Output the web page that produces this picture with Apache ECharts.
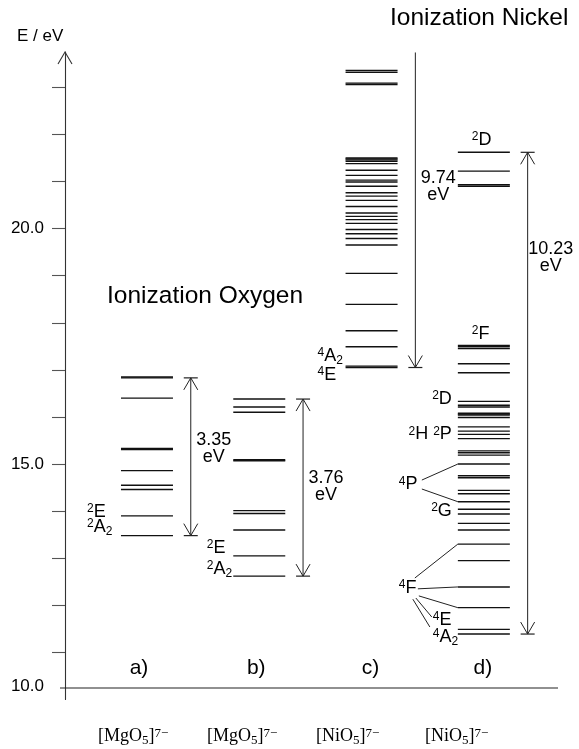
<!DOCTYPE html>
<html>
<head>
<meta charset="utf-8">
<script src="https://cdn.jsdelivr.net/npm/echarts@6/dist/echarts.min.js"></script>
<style>
  html, body { margin: 0; padding: 0; background: #fff; }
  #chart { width: 579px; height: 749px; }
</style>
</head>
<body>
<div id="chart"></div>
<script>
// ---- data -------------------------------------------------------------
const columns = ['a)', 'b)', 'c)', 'd)'];
const clusterMetal = ['Mg', 'Mg', 'Ni', 'Ni'];

// state energies (eV) per column
const levelsA = [16.85, 16.83, 16.40, 15.33, 15.31, 14.86, 14.55, 14.46, 13.90, 13.48];
const levelsB = [16.38, 16.21, 16.10, 15.09, 15.07, 14.01, 13.95, 13.60, 13.05, 12.62];
const levelsC = [23.36, 23.32, 23.09, 23.06, 21.50, 21.48, 21.46, 21.43, 21.38, 21.24,
                 21.13, 21.03, 20.99, 20.90, 20.76, 20.69, 20.60, 20.47, 20.33, 20.26,
                 20.19, 20.11, 19.98, 19.89, 19.79, 19.65, 19.05, 18.39, 17.83, 17.49,
                 17.08, 17.05];
const levelsD = [21.62, 21.22, 20.93, 20.90, 17.52, 17.49, 17.45, 17.13, 16.94, 16.33,
                 16.25, 16.21, 16.08, 16.06, 16.04, 15.99, 15.79, 15.70, 15.63, 15.54,
                 15.28, 15.24, 15.19, 15.00, 14.75, 14.71, 14.44, 14.37, 14.20, 14.04,
                 13.94, 13.74, 13.60, 13.30, 12.95, 12.39, 11.95, 11.49, 11.39];

// ionization gaps: lower state and width (eV)
const gapFrom = [13.48, 12.62, 17.05, 11.39];
const gapValue = [3.35, 3.76, 9.74, 10.23];

// energy axis
const yTickValues = [11, 12, 13, 14, 15, 16, 17, 18, 19, 20, 21, 22, 23];
const yLabelValues = [15, 20];
const yMin = 10;
const yMax = 23.75;

// ---- layout -----------------------------------------------------------
const FONT = 'Liberation Sans, Arial, sans-serif';
const SERIF = 'Liberation Serif, Times New Roman, serif';
const HALF = 0.2315;          // half width of a level bar (column units)
const ARROW_DX = 0.39;        // arrow offset from column centre
const X_MIN = -0.73, X_MAX = 3.5;
const BASE_E = 10.244;        // diagram baseline
const GAP_LABEL_E = [15.32, 14.53, 20.89, 19.38];
const COL_LABEL_DX = [-8, -3, -1, -1];
const COL_LABEL_E = 10.67;

const termRich = {
  t:   { fontSize: 18, lineHeight: 20, verticalAlign: 'top', fontFamily: FONT, fill: '#000' },
  sup: { fontSize: 12, lineHeight: 14, verticalAlign: 'top', fontFamily: FONT, fill: '#000' },
  sub: { fontSize: 12, lineHeight: 12, padding: [13, 0, 0, 0], verticalAlign: 'bottom', fontFamily: FONT, fill: '#000' },
  sp:  { fontSize: 18, lineHeight: 20, verticalAlign: 'top', fontFamily: FONT }
};
function term(mult, sym, sub) {
  return '{sup|' + mult + '}{t|' + sym + '}' + (sub ? '{sub|' + sub + '}' : '');
}

// term symbol labels: column, x offset (px), energy of text centre, alignment
const termLabels = [
  { col: 0, dx: -60, e: 13.96, align: 'left', text: term('2', 'E') },
  { col: 0, dx: -60, e: 13.64, align: 'left', text: term('2', 'A', '2') },
  { col: 1, dx: -52.5, e: 13.20, align: 'left', text: term('2', 'E') },
  { col: 1, dx: -52.5, e: 12.75, align: 'left', text: term('2', 'A', '2') },
  { col: 2, dx: -54, e: 17.27, align: 'left', text: term('4', 'A', '2') },
  { col: 2, dx: -54, e: 16.87, align: 'left', text: term('4', 'E') },
  { col: 3, dx: -12, e: 21.86, align: 'left', text: term('2', 'D') },
  { col: 3, dx: -12, e: 17.74, align: 'left', text: term('2', 'F') },
  { col: 3, dx: -32, e: 16.36, align: 'right', text: term('2', 'D') },
  { col: 3, dx: -32, e: 15.61, align: 'right', text: term('2', 'H') + '{sp| }' + term('2', 'P') },
  { col: 3, dx: -85, e: 14.55, align: 'left', text: term('4', 'P') },
  { col: 3, dx: -32, e: 13.99, align: 'right', text: term('2', 'G') },
  { col: 3, dx: -85, e: 12.35, align: 'left', text: term('4', 'F') },
  { col: 3, dx: -51, e: 11.67, align: 'left', text: term('4', 'E') },
  { col: 3, dx: -51, e: 11.31, align: 'left', text: term('4', 'A', '2') }
];

// connector lines from multiplet labels to their levels (column d)
const connectors = [
  [[-62, 14.66], [-26, 15.00]],
  [[-62, 14.47], [-26, 14.20]],
  [[-69, 12.58], [-26, 13.30]],
  [[-66, 12.35], [-26, 12.39]],
  [[-65, 12.20], [-26, 11.95]],
  [[-68, 12.155], [-52, 11.75]],
  [[-71, 12.13], [-54, 11.54]]
];

// ---- series data ------------------------------------------------------
const levelData = [];
[levelsA, levelsB, levelsC, levelsD].forEach(function (arr, col) {
  arr.forEach(function (e) { levelData.push([col, e]); });
});
const arrowData = gapFrom.map(function (f, i) { return [i, f, gapValue[i]]; });

const LINE = '#111';

function renderLevel(params, api) {
  const col = api.value(0), e = api.value(1);
  const p0 = api.coord([col - HALF, e]);
  const p1 = api.coord([col + HALF, e]);
  return {
    type: 'line',
    shape: { x1: p0[0], y1: p0[1], x2: p1[0], y2: p1[1] },
    style: { stroke: LINE, lineWidth: 1.4 }
  };
}

function chevron(x, y, dir) {
  // open arrow head with a small bar at the tip; dir = -1 points up, +1 points down
  return [
    { type: 'polyline', shape: { points: [[x - 7, y - dir * 12], [x, y], [x + 7, y - dir * 12]] },
      style: { stroke: '#222', lineWidth: 1, fill: null } },
    { type: 'line', shape: { x1: x - 7, y1: y, x2: x + 7, y2: y },
      style: { stroke: '#222', lineWidth: 1.2 } }
  ];
}

function renderArrow(params, api) {
  const col = api.value(0), from = api.value(1), gap = api.value(2);
  const to = from + gap;
  const top = Math.min(to, yMax - 0.01);
  const pB = api.coord([col + ARROW_DX, from]);
  const pT = api.coord([col + ARROW_DX, top]);
  const x = pB[0];
  let children = [
    { type: 'line', shape: { x1: x, y1: pB[1], x2: x, y2: pT[1] }, style: { stroke: '#222', lineWidth: 1 } }
  ];
  children = children.concat(chevron(x, pB[1], 1));
  if (to <= yMax) children = children.concat(chevron(x, pT[1], -1));
  const pl = api.coord([col + ARROW_DX, GAP_LABEL_E[params.dataIndex]]);
  children.push({
    type: 'text', x: x + 23, y: pl[1],
    style: { text: gap.toFixed(2) + '\neV', align: 'center', verticalAlign: 'middle',
             fontSize: 18, lineHeight: 17, fontFamily: FONT, fill: '#000' }
  });
  return { type: 'group', children: children };
}

function renderNotes(params, api) {
  const P = function (col, dx, e) { const c = api.coord([col, e]); return [c[0] + dx, c[1]]; };
  const children = [];
  // open arrow head on the energy axis
  const tip = P(X_MIN, 0, yMax);
  children.push({ type: 'polyline', shape: { points: [[tip[0] - 7, tip[1] + 12], tip, [tip[0] + 7, tip[1] + 12]] },
                  style: { stroke: '#333', lineWidth: 1.1, fill: null } });
  // baseline of the diagram
  const b0 = P(X_MIN, -5, BASE_E), b1 = P(X_MAX, 18, BASE_E);
  children.push({ type: 'line', shape: { x1: b0[0], y1: b0[1], x2: b1[0], y2: b1[1] },
                  style: { stroke: '#222', lineWidth: 1.1 } });
  const l10 = P(X_MIN, -21, BASE_E + 0.04);
  children.push({ type: 'text', x: l10[0], y: l10[1],
                  style: { text: yMin.toFixed(1), align: 'right', verticalAlign: 'middle',
                           fontSize: 17, fontFamily: FONT, fill: '#000' } });
  // column letters
  columns.forEach(function (c, i) {
    const p = P(i, COL_LABEL_DX[i], COL_LABEL_E);
    children.push({ type: 'text', x: p[0], y: p[1],
                    style: { text: c, align: 'center', verticalAlign: 'middle',
                             fontSize: 21, fontFamily: FONT, fill: '#000' } });
  });
  // connectors
  connectors.forEach(function (seg) {
    const a = P(3, seg[0][0], seg[0][1]), b = P(3, seg[1][0], seg[1][1]);
    children.push({ type: 'line', shape: { x1: a[0], y1: a[1], x2: b[0], y2: b[1] },
                    style: { stroke: '#222', lineWidth: 1 } });
  });
  // term symbols
  termLabels.forEach(function (t) {
    const p = P(t.col, t.dx, t.e);
    children.push({ type: 'text', x: p[0], y: p[1] - 10,
                    style: { text: t.text, rich: termRich, align: t.align, verticalAlign: 'top' } });
  });
  return { type: 'group', children: children };
}

// ---- chart ------------------------------------------------------------
const chart = echarts.init(document.getElementById('chart'), null, { renderer: 'canvas' });

const formulaRich = {
  b: { fontSize: 18, lineHeight: 20, verticalAlign: 'top', fontFamily: SERIF, fill: '#000' },
  s: { fontSize: 13, lineHeight: 13, padding: [7, 0, 0, 0], verticalAlign: 'top', fontFamily: SERIF, fill: '#000' },
  p: { fontSize: 13, lineHeight: 13, verticalAlign: 'top', fontFamily: SERIF, fill: '#000' }
};
const formulaX = [98, 207, 316, 425];

chart.setOption({
  animation: false,
  grid: { left: 65, right: 39, top: 52, bottom: 49.5 },
  xAxis: { type: 'value', min: X_MIN, max: X_MAX, show: false },
  yAxis: {
    type: 'value', min: yMin, max: yMax,
    axisLine: { show: true, onZero: false, lineStyle: { color: '#333', width: 1.1 } },
    axisTick: { show: true, customValues: yTickValues, length: 13, lineStyle: { color: '#555', width: 1.1 } },
    axisLabel: { customValues: yLabelValues, formatter: function (v) { return v.toFixed(1); },
                 margin: 21, fontSize: 17, color: '#000', fontFamily: FONT },
    splitLine: { show: false }
  },
  graphic: [
    { type: 'text', x: 17, y: 36, style: { text: 'E / eV', fontSize: 17, fontFamily: FONT, fill: '#000', align: 'left', verticalAlign: 'middle' } },
    { type: 'text', x: 107, y: 296, style: { text: 'Ionization Oxygen', fontSize: 24.5, fontFamily: FONT, fill: '#000', align: 'left', verticalAlign: 'middle' } },
    { type: 'text', x: 390, y: 18, style: { text: 'Ionization Nickel', fontSize: 24.5, fontFamily: FONT, fill: '#000', align: 'left', verticalAlign: 'middle' } }
  ].concat(clusterMetal.map(function (m, i) {
    return { type: 'text', x: formulaX[i], y: 727,
             style: { text: '{b|[' + m + 'O}{s|5}{b|]}{p|7\u2212}', rich: formulaRich, align: 'left', verticalAlign: 'top' } };
  })),
  series: [
    { type: 'custom', name: 'levels', coordinateSystem: 'cartesian2d', clip: false, silent: true,
      renderItem: renderLevel, data: levelData },
    { type: 'custom', name: 'gaps', coordinateSystem: 'cartesian2d', clip: false, silent: true,
      renderItem: renderArrow, data: arrowData },
    { type: 'custom', name: 'notes', coordinateSystem: 'cartesian2d', clip: false, silent: true,
      renderItem: renderNotes, data: [[0, 0]] }
  ]
});
</script>
</body>
</html>
